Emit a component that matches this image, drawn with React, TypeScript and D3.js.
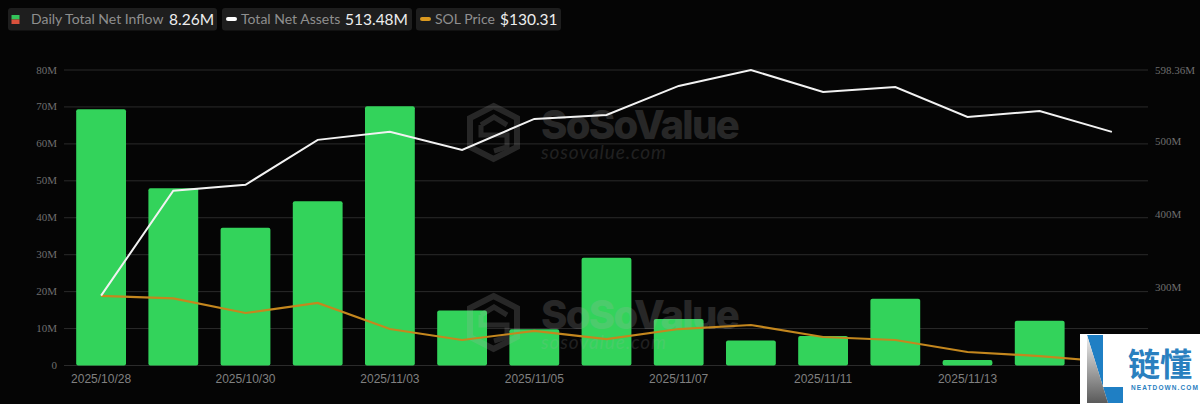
import { useEffect, useRef } from 'react'
import * as d3 from 'd3'

const width = 1200
const height = 404

const dates = ['2025/10/28', '2025/10/29', '2025/10/30', '2025/10/31', '2025/11/03', '2025/11/04', '2025/11/05', '2025/11/06', '2025/11/07', '2025/11/10', '2025/11/11', '2025/11/12', '2025/11/13', '2025/11/14', '2025/11/17']
const inflow = [69.4, 48, 37.3, 44.5, 70.2, 14.9, 9.8, 29.2, 12.6, 6.8, 8.0, 18.1, 1.5, 12.1, 8.26]
const netAssets = [288.9, 432.7, 440.9, 502.5, 513.5, 488.8, 531.3, 536.7, 576.5, 598.36, 568.2, 575.1, 534, 542.2, 513.48]
const solPrice = [199, 196.4, 181.3, 191.7, 164.6, 153.2, 162.6, 154.2, 164.6, 168.8, 156.3, 153.2, 140.7, 136.5, 130.31]
const leftTicks = [0, 10, 20, 30, 40, 50, 60, 70, 80]
const rightTicks = [300, 400, 500, 598.36]
const legendItems = [
  { label: 'Daily Total Net Inflow', value: '8.26M', x: 8, w: 209, labelX: 31, valueX: 169 },
  { label: 'Total Net Assets', value: '513.48M', x: 222, w: 190, labelX: 241, valueX: 345 },
  { label: 'SOL Price', value: '$130.31', x: 416, w: 145, labelX: 435, valueX: 500 },
]

const GREEN = '#33d35b'
const GOLD = '#c4871e'
const LINE_WHITE = '#f2f2f2'

export default function App() {
  const svgRef = useRef<SVGSVGElement>(null)

  useEffect(() => {
    if (!svgRef.current) return
    const svg = d3.select(svgRef.current)
    svg.selectAll('*').remove()

    const x = d3.scaleBand<string>().domain(dates).range([65, 1148]).paddingInner(0.31).paddingOuter(0.155)
    const y = d3.scaleLinear().domain([0, 80]).range([365.5, 70])
    const yAssets = d3.scaleLinear().domain([193, 598.36]).range([365.5, 70])
    const yPrice = d3.scaleLinear().domain([126.15, 433.99]).range([366, 70])
    const cx = (d: string) => (x(d) ?? 0) + x.bandwidth() / 2

    svg.append('rect').attr('width', width).attr('height', height).attr('fill', '#050505')

    // legend
    const legend = svg.append('g').attr('font-family', 'Lato, sans-serif')
    legendItems.forEach((item, i) => {
      legend.append('rect').attr('x', item.x).attr('y', 8).attr('width', item.w).attr('height', 22.5).attr('rx', 3).attr('fill', '#1e1e1e')
      legend.append('text').attr('x', item.labelX).attr('y', 24).attr('font-size', 14).attr('fill', '#8f8f8f').text(item.label)
      legend.append('text').attr('x', item.valueX).attr('y', 25).attr('font-size', 15.5).attr('fill', '#eeeeee').text(item.value)
      if (i > 0) {
        legend.append('rect').attr('x', item.labelX - 15).attr('y', 17).attr('width', 11).attr('height', 4).attr('rx', 2)
          .attr('fill', i === 1 ? '#ffffff' : '#d9981f')
      }
    })
    legend.append('rect').attr('x', 11.5).attr('y', 15).attr('width', 8).attr('height', 4.5).attr('fill', '#33c45a')
    legend.append('rect').attr('x', 11.5).attr('y', 19.5).attr('width', 8).attr('height', 4.5).attr('fill', '#d9513c')

    // grid
    svg.append('g').selectAll('line').data(leftTicks).enter().append('line')
      .attr('x1', 64).attr('x2', 1148)
      .attr('y1', d => y(d)).attr('y2', d => y(d))
      .attr('stroke', '#2b2b2b').attr('stroke-width', 1)

    // left axis
    svg.append('g').selectAll('text').data(leftTicks).enter().append('text')
      .attr('x', 57).attr('y', d => y(d) + 3.5)
      .attr('text-anchor', 'end')
      .attr('font-family', '"Liberation Serif", serif').attr('font-size', 11).attr('fill', '#6e6e6e')
      .text(d => (d === 0 ? '0' : `${d}M`))

    // right axis
    svg.append('g').selectAll('text').data(rightTicks).enter().append('text')
      .attr('x', 1155).attr('y', d => yAssets(d) + 3.5)
      .attr('font-family', '"Liberation Serif", serif').attr('font-size', 11).attr('fill', '#6e6e6e')
      .text(d => `${d}M`)

    // x axis
    svg.append('g').selectAll('text').data(dates.filter((_, i) => i % 2 === 0 && i < 14)).enter().append('text')
      .attr('x', d => cx(d)).attr('y', 383)
      .attr('text-anchor', 'middle')
      .attr('font-family', '"Liberation Sans", sans-serif').attr('font-size', 12).attr('fill', '#808080')
      .text(d => d)

    // bars
    svg.append('g').selectAll('rect').data(dates).enter().append('rect')
      .attr('x', d => x(d) ?? 0)
      .attr('y', (_, i) => y(inflow[i]))
      .attr('width', x.bandwidth())
      .attr('height', (_, i) => y(0) - y(inflow[i]))
      .attr('rx', 2)
      .attr('fill', GREEN)

    // watermarks, grey so they dull the bars instead of brightening them
    const marks = [{ dx: 467, dy: 103 }, { dx: 467, dy: 293 }]
    marks.forEach(m => {
      const g = svg.append('g').attr('transform', `translate(${m.dx},${m.dy})`).attr('opacity', 0.2)
      const hex = d3.line()([[26.5, 3], [50, 15], [50, 44], [26.5, 56], [3, 44], [3, 15]]) + 'Z'
      g.append('path').attr('d', hex).attr('fill', 'none').attr('stroke', '#b0b0b0').attr('stroke-width', 6)
      g.append('path').attr('d', 'M14 22L27 14L40 22M14 22L14 32L40 32L40 44L27 48')
        .attr('fill', 'none').attr('stroke', '#b0b0b0').attr('stroke-width', 5)
      g.append('text').attr('x', 74).attr('y', 36).attr('font-family', 'Inter, sans-serif').attr('font-weight', 800)
        .attr('font-size', 40).attr('letter-spacing', -1.7).attr('fill', '#b0b0b0').text('SoSoValue')
      g.append('text').attr('x', 74).attr('y', 56).attr('font-family', 'Lato, sans-serif').attr('font-style', 'italic')
        .attr('font-size', 19).attr('letter-spacing', 0.9).attr('fill', '#b0b0b0').attr('opacity', 0.8).text('sosovalue.com')
    })

    // lines
    const assetsLine = d3.line<number>().x((_, i) => cx(dates[i])).y(d => yAssets(d))
    const priceLine = d3.line<number>().x((_, i) => cx(dates[i])).y(d => yPrice(d))
    svg.append('path').attr('d', priceLine(solPrice)).attr('fill', 'none').attr('stroke', GOLD).attr('stroke-width', 2.2)
    svg.append('path').attr('d', assetsLine(netAssets)).attr('fill', 'none').attr('stroke', LINE_WHITE).attr('stroke-width', 2)

    // corner badge
    const badge = svg.append('g')
    const grad = svg.append('defs').append('linearGradient').attr('id', 'badgeGrad').attr('x1', 0).attr('y1', 0).attr('x2', 0).attr('y2', 1)
    grad.append('stop').attr('offset', 0).attr('stop-color', '#f0f0f0')
    grad.append('stop').attr('offset', 1).attr('stop-color', '#5a5a5a')
    badge.append('rect').attr('x', 1080).attr('y', 334).attr('width', 120).attr('height', 70).attr('fill', '#ffffff')
    badge.append('path').attr('d', 'M1087 335L1103 335L1103 387L1123 387L1123 403L1108 403Z').attr('fill', '#1f7fc4')
    badge.append('path').attr('d', 'M1087 335L1108 403L1087 403Z').attr('fill', 'url(#badgeGrad)')
    badge.append('text').attr('x', 1128).attr('y', 376).attr('font-family', '"Noto Sans CJK SC", sans-serif').attr('font-weight', 700)
      .attr('font-size', 32).attr('fill', '#2a80bf').text('链懂')
    badge.append('text').attr('x', 1131).attr('y', 390).attr('font-family', '"Liberation Sans", sans-serif').attr('font-weight', 700)
      .attr('font-size', 6.5).attr('letter-spacing', 1.1).attr('fill', '#2a80bf').text('NEATDOWN.COM')
  }, [])

  return <svg ref={svgRef} width={width} height={height} style={{ position: 'absolute', left: 0, top: 0 }} />
}
